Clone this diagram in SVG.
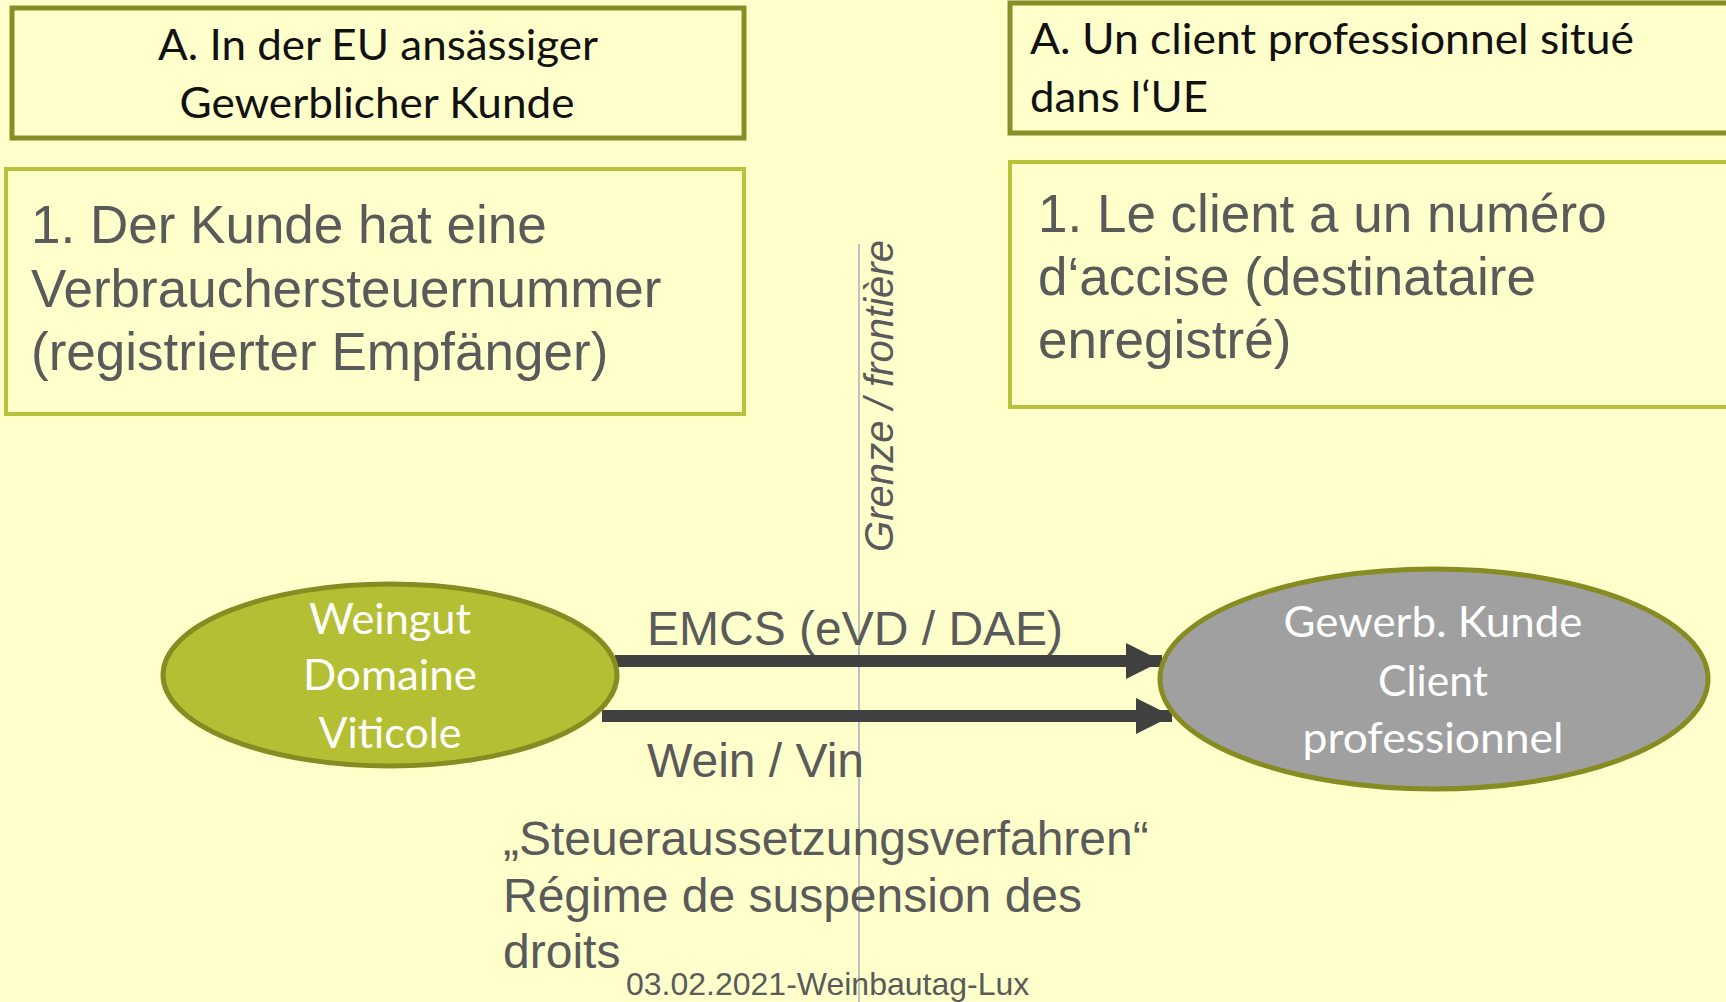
<svg xmlns="http://www.w3.org/2000/svg" width="1726" height="1002" viewBox="0 0 1726 1002">
<style>
.cal{font-family:Lato,"Open Sans",sans-serif;font-size:42px}
.dark{fill:#111111}
.white{fill:#ffffff}
.ar{font-family:"Liberation Sans",Arial,sans-serif;fill:#5a5a5a}
.big{font-size:53px}
.mid{font-size:48px}
.boxA{fill:none;stroke:#868E26;stroke-width:5}
.boxB{fill:none;stroke:#B8C23A;stroke-width:4}
.conn{stroke:#404040;stroke-width:12;fill:none}
</style>
<defs>
<marker id="ah" markerUnits="userSpaceOnUse" markerWidth="40" markerHeight="40" refX="36" refY="18" orient="auto">
<path d="M0,0 L36,18 L0,36 Z" fill="#404040"/>
</marker>
</defs>
<rect width="1726" height="1002" fill="#FFFFCC"/>

<g id="box-de-title">
<rect class="boxA" x="12" y="8" width="732" height="130"/>
<text class="cal dark" x="378" y="60" text-anchor="middle" textLength="440" lengthAdjust="spacingAndGlyphs">A. In der EU ansässiger</text>
<text class="cal dark" x="377" y="118" text-anchor="middle" textLength="395" lengthAdjust="spacingAndGlyphs">Gewerblicher Kunde</text>
</g>

<g id="box-de-text">
<rect class="boxB" x="6" y="169" width="738" height="245"/>
<text class="ar big" x="31" y="243">1. Der Kunde hat eine</text>
<text class="ar big" x="31" y="307">Verbrauchersteuernummer</text>
<text class="ar big" x="31" y="370">(registrierter Empfänger)</text>
</g>

<g id="box-fr-title">
<rect class="boxA" x="1010" y="3" width="730" height="130"/>
<text class="cal dark" x="1030" y="54" textLength="604" lengthAdjust="spacingAndGlyphs">A. Un client professionnel situé</text>
<text class="cal dark" x="1030" y="112" textLength="178" lengthAdjust="spacingAndGlyphs">dans l‘UE</text>
</g>

<g id="box-fr-text">
<rect class="boxB" x="1010" y="162" width="730" height="245"/>
<text class="ar big" x="1038" y="232">1. Le client a un numéro</text>
<text class="ar big" x="1038" y="295">d‘accise (destinataire</text>
<text class="ar big" x="1038" y="358">enregistré)</text>
</g>

<g id="border">
<line x1="859" y1="244" x2="859" y2="1002" stroke="#C0C0C0" stroke-width="2"/>
<text class="ar" font-size="40" font-style="italic" transform="translate(893,552) rotate(-90)" textLength="312" lengthAdjust="spacingAndGlyphs">Grenze / frontière</text>
</g>

<g id="connectors">
<line class="conn" x1="615" y1="661" x2="1162" y2="661" marker-end="url(#ah)"/>
<line class="conn" x1="602" y1="716" x2="1172" y2="716" marker-end="url(#ah)"/>
</g>

<g id="node-weingut">
<ellipse cx="390" cy="675" rx="227" ry="91" fill="#B5BF34" stroke="#868B22" stroke-width="5"/>
<text class="cal white" x="390" y="634" text-anchor="middle" textLength="162" lengthAdjust="spacingAndGlyphs">Weingut</text>
<text class="cal white" x="390" y="690" text-anchor="middle" textLength="174" lengthAdjust="spacingAndGlyphs">Domaine</text>
<text class="cal white" x="390" y="748" text-anchor="middle" textLength="143" lengthAdjust="spacingAndGlyphs">Viticole</text>
</g>

<g id="node-kunde">
<ellipse cx="1434" cy="679" rx="274" ry="110" fill="#A0A0A0" stroke="#868B22" stroke-width="5"/>
<text class="cal white" x="1433" y="637" text-anchor="middle" textLength="299" lengthAdjust="spacingAndGlyphs">Gewerb. Kunde</text>
<text class="cal white" x="1433" y="696" text-anchor="middle" textLength="110" lengthAdjust="spacingAndGlyphs">Client</text>
<text class="cal white" x="1433" y="753" text-anchor="middle" textLength="261" lengthAdjust="spacingAndGlyphs">professionnel</text>
</g>

<g id="labels">
<text class="ar mid" x="647" y="645">EMCS (eVD / DAE)</text>
<text class="ar mid" x="647" y="777">Wein / Vin</text>
<text class="ar mid" x="503" y="855">„Steueraussetzungsverfahren“</text>
<text class="ar mid" x="503" y="912">Régime de suspension des</text>
<text class="ar mid" x="503" y="968">droits</text>
<text class="ar" font-size="32" x="626" y="995">03.02.2021-Weinbautag-Lux</text>
</g>
</svg>
